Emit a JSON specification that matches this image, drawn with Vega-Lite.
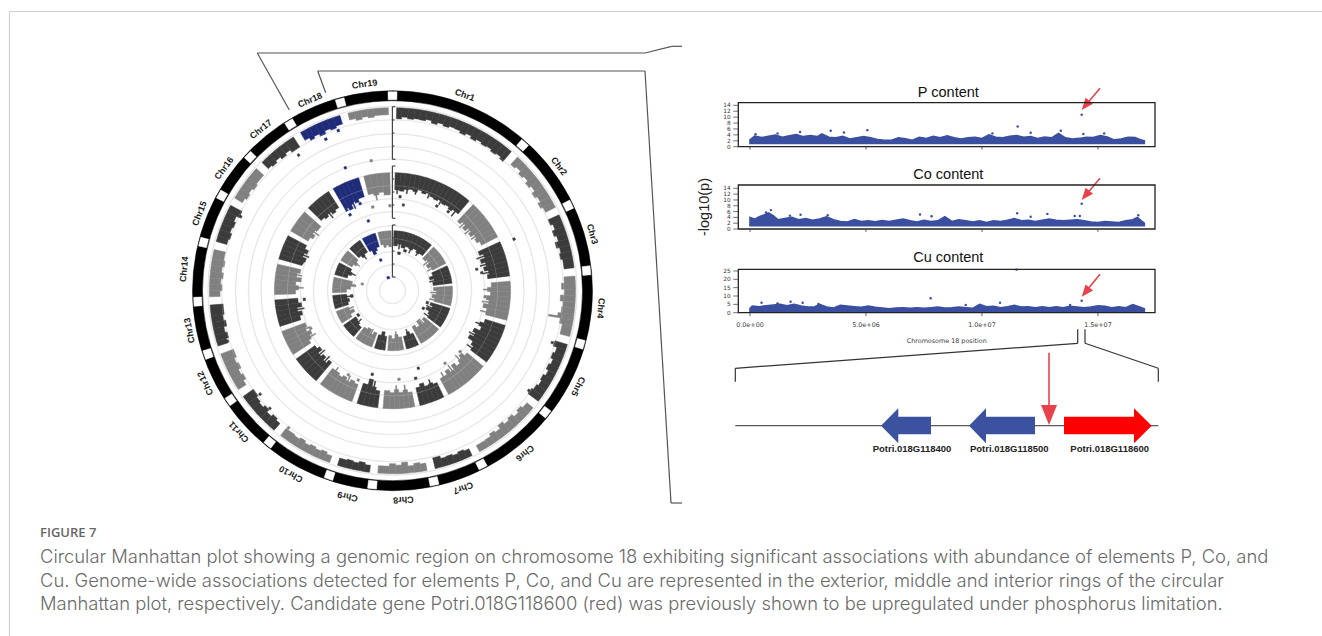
{"$schema":"https://vega.github.io/schema/vega-lite/v6.json","width":1322,"height":636,"padding":0,"autosize":"none","background":"white","config":{"view":{"stroke":null}},
"resolve":{"scale":{"x":"independent","y":"independent"}},
"layer":[
{"layer":[
{"data":{"values":[
{"a":0,"b":360,"o":13.3,"i":12.7,"k":"l"},{"a":0,"b":360,"o":26.3,"i":25.7,"k":"l"},{"a":0,"b":360,"o":39.3,"i":38.7,"k":"l"},{"a":0,"b":360,"o":52.3,"i":51.7,"k":"l"},{"a":0,"b":360,"o":65.3,"i":64.7,"k":"l"},{"a":0,"b":360,"o":79.3,"i":78.7,"k":"l"},{"a":0,"b":360,"o":92.3,"i":91.7,"k":"l"},{"a":0,"b":360,"o":105.3,"i":104.7,"k":"l"},{"a":0,"b":360,"o":118.3,"i":117.7,"k":"l"},{"a":0,"b":360,"o":131.8,"i":131.2,"k":"l"},{"a":0,"b":360,"o":144.3,"i":143.7,"k":"l"},{"a":0,"b":360,"o":157.3,"i":156.7,"k":"l"},{"a":0,"b":360,"o":171.3,"i":170.7,"k":"l"},{"a":0,"b":360,"o":184.8,"i":184.2,"k":"l"},
{"a":0,"b":360,"o":200,"i":190,"k":"K"},
{"a":358.7,"b":361.3,"o":199,"i":191,"k":"W"},{"a":40.5,"b":43.1,"o":199,"i":191,"k":"W"},{"a":62.9,"b":65.5,"o":199,"i":191,"k":"W"},{"a":82.8,"b":85.4,"o":199,"i":191,"k":"W"},{"a":104.5,"b":107.1,"o":199,"i":191,"k":"W"},{"a":127.2,"b":129.8,"o":199,"i":191,"k":"W"},{"a":151.6,"b":154.2,"o":199,"i":191,"k":"W"},{"a":166.5,"b":169.1,"o":199,"i":191,"k":"W"},{"a":184.6,"b":187.2,"o":199,"i":191,"k":"W"},{"a":197.5,"b":200.1,"o":199,"i":191,"k":"W"},{"a":217.7,"b":220.3,"o":199,"i":191,"k":"W"},{"a":234.7,"b":237.3,"o":199,"i":191,"k":"W"},{"a":249.8,"b":252.4,"o":199,"i":191,"k":"W"},{"a":265.5,"b":268.1,"o":199,"i":191,"k":"W"},{"a":283,"b":285.6,"o":199,"i":191,"k":"W"},{"a":297.8,"b":300.4,"o":199,"i":191,"k":"W"},{"a":311.9,"b":314.5,"o":199,"i":191,"k":"W"},{"a":327.2,"b":329.8,"o":199,"i":191,"k":"W"},{"a":343.3,"b":345.9,"o":199,"i":191,"k":"W"},
{"a":1.3,"b":3,"o":183,"i":172,"k":"d"},{"a":3,"b":5,"o":183,"i":174,"k":"d"},{"a":5,"b":7,"o":183,"i":172.5,"k":"d"},{"a":7,"b":9,"o":183,"i":173.5,"k":"d"},{"a":9,"b":11,"o":183,"i":173,"k":"d"},{"a":11,"b":13,"o":183,"i":174.5,"k":"d"},{"a":13,"b":15,"o":183,"i":172,"k":"d"},{"a":15,"b":17,"o":183,"i":174,"k":"d"},{"a":17,"b":19,"o":183,"i":172.5,"k":"d"},{"a":19,"b":21,"o":183,"i":174,"k":"d"},{"a":21,"b":23,"o":183,"i":173.5,"k":"d"},{"a":23,"b":25,"o":183,"i":171.5,"k":"d"},{"a":25,"b":27,"o":183,"i":173.5,"k":"d"},{"a":27,"b":29,"o":183,"i":171,"k":"d"},{"a":29,"b":31,"o":183,"i":173,"k":"d"},{"a":31,"b":33,"o":183,"i":171.5,"k":"d"},{"a":33,"b":35,"o":183,"i":172.5,"k":"d"},{"a":35,"b":37,"o":183,"i":170.5,"k":"d"},{"a":37,"b":39,"o":183,"i":172,"k":"d"},{"a":39,"b":40.5,"o":183,"i":170,"k":"d"},
{"a":43.1,"b":45,"o":183,"i":173,"k":"g"},{"a":45,"b":47,"o":183,"i":175,"k":"g"},{"a":47,"b":49,"o":183,"i":172,"k":"g"},{"a":49,"b":51,"o":183,"i":174,"k":"g"},{"a":51,"b":53,"o":183,"i":171,"k":"g"},{"a":53,"b":55,"o":183,"i":173.5,"k":"g"},{"a":55,"b":57,"o":183,"i":170,"k":"g"},{"a":57,"b":59,"o":183,"i":172.5,"k":"g"},{"a":59,"b":61,"o":183,"i":169.5,"k":"g"},{"a":61,"b":62.9,"o":183,"i":172,"k":"g"},
{"a":65.5,"b":67.5,"o":183,"i":171,"k":"d"},{"a":67.5,"b":69.5,"o":183,"i":173.5,"k":"d"},{"a":69.5,"b":71.5,"o":183,"i":170.5,"k":"d"},{"a":71.5,"b":73.5,"o":183,"i":173,"k":"d"},{"a":73.5,"b":75.5,"o":183,"i":169.5,"k":"d"},{"a":75.5,"b":77.5,"o":183,"i":172.5,"k":"d"},{"a":77.5,"b":79.5,"o":183,"i":171,"k":"d"},{"a":79.5,"b":82.8,"o":183,"i":173,"k":"d"},
{"a":85.4,"b":87.5,"o":183,"i":172,"k":"g"},{"a":87.5,"b":89.5,"o":183,"i":169,"k":"g"},{"a":89.5,"b":91.5,"o":183,"i":172,"k":"g"},{"a":91.5,"b":93.5,"o":183,"i":168,"k":"g"},{"a":93.5,"b":95.5,"o":183,"i":171,"k":"g"},{"a":95.5,"b":97.5,"o":183,"i":170,"k":"g"},{"a":97.5,"b":98.6,"o":183,"i":167,"k":"g"},{"a":98.6,"b":99.2,"o":183,"i":158,"k":"g"},{"a":99.2,"b":101,"o":183,"i":170,"k":"g"},{"a":101,"b":104.5,"o":183,"i":173,"k":"g"},
{"a":107.1,"b":109,"o":183,"i":170,"k":"d"},{"a":109,"b":111,"o":183,"i":174,"k":"d"},{"a":111,"b":113,"o":183,"i":172,"k":"d"},{"a":113,"b":115,"o":183,"i":174.5,"k":"d"},{"a":115,"b":117,"o":183,"i":172.5,"k":"d"},{"a":117,"b":119,"o":183,"i":175,"k":"d"},{"a":119,"b":121,"o":183,"i":172.5,"k":"d"},{"a":121,"b":123,"o":183,"i":174,"k":"d"},{"a":123,"b":125,"o":183,"i":172,"k":"d"},{"a":125,"b":127.2,"o":183,"i":170,"k":"d"},
{"a":129.8,"b":132,"o":183,"i":175,"k":"g"},{"a":132,"b":134,"o":183,"i":172.5,"k":"g"},{"a":134,"b":136,"o":183,"i":175,"k":"g"},{"a":136,"b":138,"o":183,"i":172,"k":"g"},{"a":138,"b":140,"o":183,"i":174,"k":"g"},{"a":140,"b":142,"o":183,"i":171,"k":"g"},{"a":142,"b":144,"o":183,"i":175,"k":"g"},{"a":144,"b":146,"o":183,"i":173,"k":"g"},{"a":146,"b":148,"o":183,"i":175.5,"k":"g"},{"a":148,"b":151.6,"o":183,"i":176,"k":"g"},
{"a":154.2,"b":156,"o":183,"i":175.5,"k":"d"},{"a":156,"b":158,"o":183,"i":174,"k":"d"},{"a":158,"b":160,"o":183,"i":175.5,"k":"d"},{"a":160,"b":162,"o":183,"i":174,"k":"d"},{"a":162,"b":164,"o":183,"i":174.5,"k":"d"},{"a":164,"b":166.5,"o":183,"i":172,"k":"d"},
{"a":169.1,"b":171,"o":183,"i":175.5,"k":"g"},{"a":171,"b":173,"o":183,"i":174,"k":"g"},{"a":173,"b":175,"o":183,"i":176,"k":"g"},{"a":175,"b":177,"o":183,"i":172,"k":"g"},{"a":177,"b":179,"o":183,"i":174.5,"k":"g"},{"a":179,"b":181,"o":183,"i":173,"k":"g"},{"a":181,"b":184.6,"o":183,"i":175.5,"k":"g"},
{"a":187.2,"b":189,"o":183,"i":176,"k":"d"},{"a":189,"b":191,"o":183,"i":174,"k":"d"},{"a":191,"b":193,"o":183,"i":175.5,"k":"d"},{"a":193,"b":195,"o":183,"i":174.5,"k":"d"},{"a":195,"b":197.5,"o":183,"i":175.5,"k":"d"},
{"a":200.1,"b":202,"o":183,"i":176,"k":"g"},{"a":202,"b":204,"o":183,"i":174,"k":"g"},{"a":204,"b":206,"o":183,"i":175.5,"k":"g"},{"a":206,"b":208,"o":183,"i":174,"k":"g"},{"a":208,"b":210,"o":183,"i":175.5,"k":"g"},{"a":210,"b":212,"o":183,"i":173.5,"k":"g"},{"a":212,"b":214,"o":183,"i":175,"k":"g"},{"a":214,"b":217.7,"o":183,"i":174,"k":"g"},
{"a":220.3,"b":222,"o":183,"i":174,"k":"d"},{"a":222,"b":224,"o":183,"i":172,"k":"d"},{"a":224,"b":226,"o":183,"i":174.5,"k":"d"},{"a":226,"b":228,"o":183,"i":171.5,"k":"d"},{"a":228,"b":230,"o":183,"i":174,"k":"d"},{"a":230,"b":232,"o":183,"i":172.5,"k":"d"},{"a":232,"b":234.7,"o":183,"i":170.5,"k":"d"},
{"a":237.3,"b":239,"o":183,"i":174,"k":"g"},{"a":239,"b":241,"o":183,"i":171,"k":"g"},{"a":241,"b":243,"o":183,"i":173,"k":"g"},{"a":243,"b":245,"o":183,"i":170,"k":"g"},{"a":245,"b":247,"o":183,"i":172,"k":"g"},{"a":247,"b":249.8,"o":183,"i":169.5,"k":"g"},
{"a":252.4,"b":254,"o":183,"i":173,"k":"d"},{"a":254,"b":256,"o":183,"i":170.5,"k":"d"},{"a":256,"b":258,"o":183,"i":172.5,"k":"d"},{"a":258,"b":260,"o":183,"i":169.5,"k":"d"},{"a":260,"b":262,"o":183,"i":171.5,"k":"d"},{"a":262,"b":265.5,"o":183,"i":170,"k":"d"},
{"a":268.1,"b":270,"o":183,"i":172.5,"k":"g"},{"a":270,"b":272,"o":183,"i":170.5,"k":"g"},{"a":272,"b":274,"o":183,"i":172,"k":"g"},{"a":274,"b":276,"o":183,"i":170,"k":"g"},{"a":276,"b":278,"o":183,"i":172,"k":"g"},{"a":278,"b":280,"o":183,"i":170,"k":"g"},{"a":280,"b":283,"o":183,"i":171.5,"k":"g"},
{"a":285.6,"b":287.5,"o":183,"i":172,"k":"d"},{"a":287.5,"b":289.5,"o":183,"i":170.5,"k":"d"},{"a":289.5,"b":291.5,"o":183,"i":172.5,"k":"d"},{"a":291.5,"b":293.5,"o":183,"i":171,"k":"d"},{"a":293.5,"b":295.5,"o":183,"i":173,"k":"d"},{"a":295.5,"b":297.8,"o":183,"i":170,"k":"d"},
{"a":300.4,"b":302,"o":183,"i":174,"k":"g"},{"a":302,"b":304,"o":183,"i":172,"k":"g"},{"a":304,"b":306,"o":183,"i":173.5,"k":"g"},{"a":306,"b":308,"o":183,"i":171.5,"k":"g"},{"a":308,"b":311.9,"o":183,"i":173,"k":"g"},
{"a":314.5,"b":316,"o":183,"i":174,"k":"d"},{"a":316,"b":318,"o":183,"i":172.5,"k":"d"},{"a":318,"b":320,"o":183,"i":174.5,"k":"d"},{"a":320,"b":322,"o":183,"i":172,"k":"d"},{"a":322,"b":324,"o":183,"i":174,"k":"d"},{"a":324,"b":327.2,"o":183,"i":171,"k":"d"},
{"a":329.8,"b":331.5,"o":183,"i":174,"k":"b"},{"a":331.5,"b":333,"o":183,"i":171,"k":"b"},{"a":333,"b":335,"o":183,"i":173,"k":"b"},{"a":335,"b":337,"o":183,"i":170.5,"k":"b"},{"a":337,"b":339,"o":183,"i":173.5,"k":"b"},{"a":339,"b":341,"o":183,"i":172,"k":"b"},{"a":341,"b":343.3,"o":183,"i":174,"k":"b"},
{"a":345.9,"b":348,"o":183,"i":176,"k":"g"},{"a":348,"b":350,"o":183,"i":174,"k":"g"},{"a":350,"b":352,"o":183,"i":176,"k":"g"},{"a":352,"b":354,"o":183,"i":174.5,"k":"g"},{"a":354,"b":358.7,"o":183,"i":176,"k":"g"},
{"a":1.3,"b":4,"o":118,"i":101,"k":"d"},{"a":4,"b":6.5,"o":118,"i":100,"k":"d"},{"a":6.5,"b":9,"o":118,"i":102,"k":"d"},{"a":9,"b":11.5,"o":118,"i":103,"k":"d"},{"a":11.5,"b":14,"o":118,"i":101.5,"k":"d"},{"a":14,"b":16.5,"o":118,"i":104,"k":"d"},{"a":16.5,"b":19,"o":118,"i":102,"k":"d"},{"a":19,"b":21.5,"o":118,"i":103.5,"k":"d"},{"a":21.5,"b":24,"o":118,"i":101.5,"k":"d"},{"a":24,"b":26.5,"o":118,"i":100.5,"k":"d"},{"a":26.5,"b":29,"o":118,"i":102,"k":"d"},{"a":29,"b":31.5,"o":118,"i":100,"k":"d"},{"a":31.5,"b":34,"o":118,"i":101,"k":"d"},{"a":34,"b":36.5,"o":118,"i":99,"k":"d"},{"a":36.5,"b":40.5,"o":118,"i":101,"k":"d"},
{"a":43.1,"b":45.5,"o":118,"i":95,"k":"g"},{"a":45.5,"b":48,"o":118,"i":98,"k":"g"},{"a":48,"b":50.5,"o":118,"i":94,"k":"g"},{"a":50.5,"b":53,"o":118,"i":98,"k":"g"},{"a":53,"b":55.5,"o":118,"i":95,"k":"g"},{"a":55.5,"b":58,"o":118,"i":99,"k":"g"},{"a":58,"b":60.5,"o":118,"i":97,"k":"g"},{"a":60.5,"b":62.9,"o":118,"i":100,"k":"g"},
{"a":65.5,"b":68,"o":118,"i":94,"k":"d"},{"a":68,"b":70.5,"o":118,"i":98,"k":"d"},{"a":70.5,"b":73,"o":118,"i":93,"k":"d"},{"a":73,"b":75.5,"o":118,"i":97,"k":"d"},{"a":75.5,"b":78,"o":118,"i":94,"k":"d"},{"a":78,"b":80.5,"o":118,"i":98,"k":"d"},{"a":80.5,"b":82.8,"o":118,"i":96,"k":"d"},
{"a":85.4,"b":88,"o":118,"i":99,"k":"g"},{"a":88,"b":90.5,"o":118,"i":95,"k":"g"},{"a":90.5,"b":93,"o":118,"i":98,"k":"g"},{"a":93,"b":95.5,"o":118,"i":94,"k":"g"},{"a":95.5,"b":98,"o":118,"i":97,"k":"g"},{"a":98,"b":100.5,"o":118,"i":92,"k":"g"},{"a":100.5,"b":104.5,"o":118,"i":96,"k":"g"},
{"a":107.1,"b":109.5,"o":118,"i":97,"k":"d"},{"a":109.5,"b":112,"o":118,"i":93,"k":"d"},{"a":112,"b":114.5,"o":118,"i":96,"k":"d"},{"a":114.5,"b":117,"o":118,"i":90,"k":"d"},{"a":117,"b":119.5,"o":118,"i":93,"k":"d"},{"a":119.5,"b":122,"o":118,"i":89,"k":"d"},{"a":122,"b":124.5,"o":118,"i":95,"k":"d"},{"a":124.5,"b":127.2,"o":118,"i":98,"k":"d"},
{"a":129.8,"b":132,"o":118,"i":97,"k":"g"},{"a":132,"b":134.5,"o":118,"i":93,"k":"g"},{"a":134.5,"b":137,"o":118,"i":96,"k":"g"},{"a":137,"b":139.5,"o":118,"i":99,"k":"g"},{"a":139.5,"b":142,"o":118,"i":95,"k":"g"},{"a":142,"b":144.5,"o":118,"i":100,"k":"g"},{"a":144.5,"b":147,"o":118,"i":96,"k":"g"},{"a":147,"b":151.6,"o":118,"i":100,"k":"g"},
{"a":154.2,"b":156.5,"o":118,"i":102,"k":"d"},{"a":156.5,"b":159,"o":118,"i":100,"k":"d"},{"a":159,"b":161.5,"o":118,"i":101,"k":"d"},{"a":161.5,"b":164,"o":118,"i":97,"k":"d"},{"a":164,"b":166.5,"o":118,"i":100,"k":"d"},
{"a":169.1,"b":171.5,"o":118,"i":103,"k":"g"},{"a":171.5,"b":174,"o":118,"i":100,"k":"g"},{"a":174,"b":176.5,"o":118,"i":102,"k":"g"},{"a":176.5,"b":179,"o":118,"i":99,"k":"g"},{"a":179,"b":181.5,"o":118,"i":102,"k":"g"},{"a":181.5,"b":184.6,"o":118,"i":100,"k":"g"},
{"a":187.2,"b":189.5,"o":118,"i":101,"k":"d"},{"a":189.5,"b":192,"o":118,"i":98,"k":"d"},{"a":192,"b":194.5,"o":118,"i":91,"k":"d"},{"a":194.5,"b":197.5,"o":118,"i":97,"k":"d"},
{"a":200.1,"b":202.5,"o":118,"i":100,"k":"g"},{"a":202.5,"b":205,"o":118,"i":98,"k":"g"},{"a":205,"b":207.5,"o":118,"i":101,"k":"g"},{"a":207.5,"b":210,"o":118,"i":98,"k":"g"},{"a":210,"b":212.5,"o":118,"i":100,"k":"g"},{"a":212.5,"b":217.7,"o":118,"i":98,"k":"g"},
{"a":220.3,"b":222.5,"o":118,"i":94,"k":"d"},{"a":222.5,"b":225,"o":118,"i":98,"k":"d"},{"a":225,"b":227.5,"o":118,"i":94,"k":"d"},{"a":227.5,"b":230,"o":118,"i":97,"k":"d"},{"a":230,"b":232.5,"o":118,"i":92,"k":"d"},{"a":232.5,"b":234.7,"o":118,"i":95,"k":"d"},
{"a":237.3,"b":239.5,"o":118,"i":97,"k":"g"},{"a":239.5,"b":242,"o":118,"i":94,"k":"g"},{"a":242,"b":244.5,"o":118,"i":91,"k":"g"},{"a":244.5,"b":247,"o":118,"i":95,"k":"g"},{"a":247,"b":249.8,"o":118,"i":93,"k":"g"},
{"a":252.4,"b":255,"o":118,"i":96,"k":"d"},{"a":255,"b":257.5,"o":118,"i":93,"k":"d"},{"a":257.5,"b":260,"o":118,"i":97,"k":"d"},{"a":260,"b":262.5,"o":118,"i":92,"k":"d"},{"a":262.5,"b":265.5,"o":118,"i":95,"k":"d"},
{"a":268.1,"b":270.5,"o":118,"i":97,"k":"g"},{"a":270.5,"b":273,"o":118,"i":94,"k":"g"},{"a":273,"b":275.5,"o":118,"i":97,"k":"g"},{"a":275.5,"b":278,"o":118,"i":92,"k":"g"},{"a":278,"b":280.5,"o":118,"i":97,"k":"g"},{"a":280.5,"b":283,"o":118,"i":94,"k":"g"},
{"a":285.6,"b":288,"o":118,"i":94,"k":"d"},{"a":288,"b":290.5,"o":118,"i":92,"k":"d"},{"a":290.5,"b":293,"o":118,"i":96,"k":"d"},{"a":293,"b":295.5,"o":118,"i":93,"k":"d"},{"a":295.5,"b":297.8,"o":118,"i":97,"k":"d"},
{"a":300.4,"b":303,"o":118,"i":98,"k":"g"},{"a":303,"b":305.5,"o":118,"i":95,"k":"g"},{"a":305.5,"b":308,"o":118,"i":98,"k":"g"},{"a":308,"b":311.9,"o":118,"i":96,"k":"g"},
{"a":314.5,"b":317,"o":118,"i":100,"k":"d"},{"a":317,"b":319.5,"o":118,"i":98,"k":"d"},{"a":319.5,"b":322,"o":118,"i":100,"k":"d"},{"a":322,"b":324.5,"o":118,"i":97,"k":"d"},{"a":324.5,"b":327.2,"o":118,"i":99,"k":"d"},
{"a":329.8,"b":332,"o":118,"i":94,"k":"b"},{"a":332,"b":334.5,"o":118,"i":91,"k":"b"},{"a":334.5,"b":337,"o":118,"i":97,"k":"b"},{"a":337,"b":339.5,"o":118,"i":95,"k":"b"},{"a":339.5,"b":343.3,"o":118,"i":98,"k":"b"},
{"a":345.9,"b":349,"o":118,"i":99,"k":"g"},{"a":349,"b":352,"o":118,"i":97,"k":"g"},{"a":352,"b":355,"o":118,"i":99,"k":"g"},{"a":355,"b":358.7,"o":118,"i":96,"k":"g"},
{"a":2.4,"b":3,"o":102,"i":97,"k":"d"},{"a":8,"b":8.6,"o":103,"i":98,"k":"d"},{"a":13,"b":13.6,"o":103,"i":99,"k":"d"},{"a":20.5,"b":21.1,"o":104,"i":99,"k":"d"},{"a":28,"b":28.6,"o":103,"i":98,"k":"d"},{"a":38,"b":38.6,"o":102,"i":95,"k":"d"},{"a":46.5,"b":47.1,"o":99,"i":92,"k":"g"},{"a":51.5,"b":52.1,"o":99,"i":92,"k":"g"},{"a":56.5,"b":57.1,"o":100,"i":94,"k":"g"},{"a":69,"b":69.6,"o":99,"i":90,"k":"d"},{"a":74,"b":74.6,"o":98,"i":91,"k":"d"},{"a":79,"b":79.6,"o":99,"i":92,"k":"d"},{"a":89,"b":89.6,"o":100,"i":91,"k":"g"},{"a":96.5,"b":97.1,"o":98,"i":90,"k":"g"},{"a":102.5,"b":103.1,"o":97,"i":90,"k":"g"},{"a":110.5,"b":111.1,"o":97,"i":89,"k":"d"},{"a":118,"b":118.6,"o":94,"i":87,"k":"d"},{"a":125.5,"b":126.1,"o":99,"i":92,"k":"d"},{"a":135.5,"b":136.1,"o":97,"i":90,"k":"g"},{"a":143,"b":143.6,"o":101,"i":93,"k":"g"},{"a":149,"b":149.6,"o":101,"i":95,"k":"g"},{"a":157.5,"b":158.1,"o":101,"i":96,"k":"d"},{"a":172.5,"b":173.1,"o":101,"i":95,"k":"g"},{"a":177.5,"b":178.1,"o":100,"i":95,"k":"g"},{"a":190.5,"b":191.1,"o":99,"i":92,"k":"d"},{"a":206,"b":206.6,"o":102,"i":95,"k":"g"},{"a":215,"b":215.6,"o":99,"i":94,"k":"g"},{"a":223.5,"b":224.1,"o":99,"i":91,"k":"d"},{"a":228.5,"b":229.1,"o":98,"i":90,"k":"d"},{"a":240.5,"b":241.1,"o":95,"i":88,"k":"g"},{"a":246,"b":246.6,"o":96,"i":90,"k":"g"},{"a":258.5,"b":259.1,"o":98,"i":90,"k":"d"},{"a":271.5,"b":272.1,"o":95,"i":89,"k":"g"},{"a":279,"b":279.6,"o":98,"i":92,"k":"g"},{"a":291.5,"b":292.1,"o":97,"i":90,"k":"d"},{"a":306.5,"b":307.1,"o":99,"i":92,"k":"g"},{"a":320.5,"b":321.1,"o":101,"i":94,"k":"d"},{"a":335.5,"b":336.1,"o":98,"i":90,"k":"b"},{"a":350,"b":350.6,"o":98,"i":92,"k":"g"},
{"a":1.3,"b":6,"o":60,"i":45,"k":"d"},{"a":6,"b":11,"o":60,"i":47,"k":"d"},{"a":11,"b":16,"o":60,"i":44,"k":"d"},{"a":16,"b":21,"o":60,"i":46,"k":"d"},{"a":21,"b":26,"o":60,"i":45,"k":"d"},{"a":26,"b":31,"o":60,"i":47,"k":"d"},{"a":31,"b":36,"o":60,"i":45,"k":"d"},{"a":36,"b":40.5,"o":60,"i":46,"k":"d"},
{"a":43.1,"b":48,"o":60,"i":44,"k":"g"},{"a":48,"b":53,"o":60,"i":46,"k":"g"},{"a":53,"b":58,"o":60,"i":42,"k":"g"},{"a":58,"b":62.9,"o":60,"i":45,"k":"g"},
{"a":65.5,"b":70,"o":60,"i":43,"k":"d"},{"a":70,"b":74,"o":60,"i":39,"k":"d"},{"a":74,"b":78,"o":60,"i":43,"k":"d"},{"a":78,"b":82.8,"o":60,"i":41,"k":"d"},
{"a":85.4,"b":90,"o":60,"i":41,"k":"g"},{"a":90,"b":95,"o":60,"i":44,"k":"g"},{"a":95,"b":100,"o":60,"i":40,"k":"g"},{"a":100,"b":104.5,"o":60,"i":43,"k":"g"},
{"a":107.1,"b":111,"o":60,"i":40,"k":"d"},{"a":111,"b":115,"o":60,"i":43,"k":"d"},{"a":115,"b":119,"o":60,"i":38,"k":"d"},{"a":119,"b":123,"o":60,"i":42,"k":"d"},{"a":123,"b":127.2,"o":60,"i":44,"k":"d"},
{"a":129.8,"b":134,"o":60,"i":41,"k":"g"},{"a":134,"b":138,"o":60,"i":45,"k":"g"},{"a":138,"b":142,"o":60,"i":39,"k":"g"},{"a":142,"b":147,"o":60,"i":44,"k":"g"},{"a":147,"b":151.6,"o":60,"i":41,"k":"g"},
{"a":154.2,"b":158,"o":60,"i":47,"k":"d"},{"a":158,"b":162,"o":60,"i":44,"k":"d"},{"a":162,"b":166.5,"o":60,"i":47,"k":"d"},
{"a":169.1,"b":173,"o":60,"i":47,"k":"g"},{"a":173,"b":177,"o":60,"i":44,"k":"g"},{"a":177,"b":181,"o":60,"i":48,"k":"g"},{"a":181,"b":184.6,"o":60,"i":45,"k":"g"},
{"a":187.2,"b":190,"o":60,"i":46,"k":"d"},{"a":190,"b":194,"o":60,"i":42,"k":"d"},{"a":194,"b":197.5,"o":60,"i":46,"k":"d"},
{"a":200.1,"b":204,"o":60,"i":45,"k":"g"},{"a":204,"b":208,"o":60,"i":48,"k":"g"},{"a":208,"b":213,"o":60,"i":44,"k":"g"},{"a":213,"b":217.7,"o":60,"i":46,"k":"g"},
{"a":220.3,"b":225,"o":60,"i":48,"k":"d"},{"a":225,"b":230,"o":60,"i":46,"k":"d"},{"a":230,"b":234.7,"o":60,"i":45,"k":"d"},
{"a":237.3,"b":241,"o":60,"i":48,"k":"g"},{"a":241,"b":245,"o":60,"i":43,"k":"g"},{"a":245,"b":249.8,"o":60,"i":47,"k":"g"},
{"a":252.4,"b":256,"o":60,"i":46,"k":"d"},{"a":256,"b":260,"o":60,"i":44,"k":"d"},{"a":260,"b":265.5,"o":60,"i":46,"k":"d"},
{"a":268.1,"b":272,"o":60,"i":46,"k":"g"},{"a":272,"b":276,"o":60,"i":42,"k":"g"},{"a":276,"b":279,"o":60,"i":37,"k":"g"},{"a":279,"b":283,"o":60,"i":41,"k":"g"},
{"a":285.6,"b":290,"o":60,"i":47,"k":"d"},{"a":290,"b":294,"o":60,"i":44,"k":"d"},{"a":294,"b":297.8,"o":60,"i":46,"k":"d"},
{"a":300.4,"b":304,"o":60,"i":47,"k":"g"},{"a":304,"b":308,"o":60,"i":44,"k":"g"},{"a":308,"b":311.9,"o":60,"i":46,"k":"g"},
{"a":314.5,"b":318,"o":60,"i":47,"k":"d"},{"a":318,"b":322,"o":60,"i":44,"k":"d"},{"a":322,"b":327.2,"o":60,"i":46,"k":"d"},
{"a":329.8,"b":333,"o":60,"i":45,"k":"b"},{"a":333,"b":336,"o":60,"i":41,"k":"b"},{"a":336,"b":339.5,"o":60,"i":43,"k":"b"},{"a":339.5,"b":343.3,"o":60,"i":46,"k":"b"},
{"a":345.9,"b":349,"o":60,"i":47,"k":"g"},{"a":349,"b":352,"o":60,"i":44,"k":"g"},{"a":352,"b":355,"o":60,"i":46,"k":"g"},{"a":355,"b":358.7,"o":60,"i":44,"k":"g"},
{"a":8,"b":9.2,"o":48,"i":42,"k":"d"},{"a":23,"b":24.2,"o":47,"i":41,"k":"d"},{"a":33,"b":34.2,"o":47,"i":42,"k":"d"},{"a":50,"b":51.2,"o":47,"i":40,"k":"g"},{"a":60,"b":61.2,"o":46,"i":40,"k":"g"},{"a":76,"b":77.2,"o":45,"i":38,"k":"d"},{"a":92,"b":93.2,"o":45,"i":38,"k":"g"},{"a":102,"b":103.2,"o":44,"i":38,"k":"g"},{"a":113,"b":114.2,"o":44,"i":37,"k":"d"},{"a":125,"b":126.2,"o":45,"i":39,"k":"d"},{"a":136,"b":137.2,"o":46,"i":39,"k":"g"},{"a":160,"b":161.2,"o":46,"i":41,"k":"d"},{"a":175,"b":176.2,"o":46,"i":41,"k":"g"},{"a":206,"b":207.2,"o":49,"i":43,"k":"g"},{"a":227,"b":228.2,"o":48,"i":42,"k":"d"},{"a":247,"b":248.2,"o":48,"i":42,"k":"g"},{"a":262,"b":263.2,"o":47,"i":41,"k":"d"},{"a":292,"b":293.2,"o":46,"i":40,"k":"d"},{"a":306,"b":307.2,"o":46,"i":41,"k":"g"},{"a":320,"b":321.2,"o":46,"i":41,"k":"d"},
{"a":335.8,"b":336.7,"o":166.7,"i":164.3,"k":"b"},{"a":340.9,"b":341.7,"o":170.2,"i":167.8,"k":"b"},{"a":324.9,"b":325.7,"o":166.2,"i":163.8,"k":"d"},{"a":107.6,"b":108.4,"o":169.2,"i":166.8,"k":"d"},{"a":125.8,"b":126.6,"o":170.2,"i":167.8,"k":"d"},{"a":231.6,"b":232.4,"o":169.2,"i":166.8,"k":"d"},{"a":225.8,"b":226.6,"o":171.2,"i":168.8,"k":"d"},{"a":216.8,"b":217.6,"o":173.2,"i":170.8,"k":"g"},{"a":252.6,"b":253.4,"o":173.7,"i":171.3,"k":"d"},{"a":295.6,"b":296.4,"o":170.2,"i":167.8,"k":"d"},{"a":66.5,"b":67.5,"o":133.2,"i":130.8,"k":"d"},{"a":350.2,"b":351.2,"o":132.9,"i":130.5,"k":"g"},{"a":338.5,"b":339.5,"o":132.9,"i":130.5,"k":"b"},
{"a":330,"b":331.6,"o":88.2,"i":85.8,"k":"b"},{"a":329.7,"b":331.1,"o":94,"i":91.6,"k":"b"},{"a":334.3,"b":335.7,"o":97.7,"i":95.3,"k":"b"},{"a":338.9,"b":340.3,"o":94.2,"i":91.8,"k":"b"},{"a":345.9,"b":347.5,"o":87.2,"i":84.8,"k":"g"},{"a":357.5,"b":359.1,"o":86.2,"i":83.8,"k":"g"},{"a":340,"b":341.8,"o":75,"i":72.6,"k":"b"},{"a":286.5,"b":287.9,"o":95.7,"i":93.3,"k":"d"},{"a":263.6,"b":265.2,"o":89.8,"i":87.4,"k":"d"},{"a":244.5,"b":246.1,"o":91.2,"i":88.8,"k":"g"},{"a":192.8,"b":194.4,"o":87.2,"i":84.8,"k":"d"},{"a":207,"b":208.4,"o":96.2,"i":93.8,"k":"g"},{"a":200.3,"b":201.7,"o":96.8,"i":94.4,"k":"g"},{"a":160.8,"b":162.4,"o":83,"i":80.6,"k":"d"},{"a":164.4,"b":166,"o":91.8,"i":89.4,"k":"d"},{"a":175,"b":176.6,"o":90,"i":87.6,"k":"g"},{"a":131.2,"b":132.8,"o":92.2,"i":89.8,"k":"g"},{"a":143.3,"b":144.9,"o":90.8,"i":88.4,"k":"g"},{"a":93,"b":94.4,"o":93.9,"i":91.5,"k":"g"},{"a":75,"b":76.4,"o":88.1,"i":85.7,"k":"d"},{"a":77.9,"b":79.3,"o":92.2,"i":89.8,"k":"d"},{"a":120.7,"b":122.1,"o":95.9,"i":93.5,"k":"d"},{"a":6.5,"b":7.9,"o":87.6,"i":85.2,"k":"d"},{"a":3.9,"b":5.3,"o":95.5,"i":93.1,"k":"d"},{"a":26.9,"b":28.3,"o":96.7,"i":94.3,"k":"d"},{"a":34.5,"b":35.9,"o":97.9,"i":95.5,"k":"d"},
{"a":337,"b":341,"o":34.1,"i":31.7,"k":"b"},{"a":333,"b":336.8,"o":42.5,"i":40.1,"k":"b"},{"a":337,"b":347,"o":14.9,"i":12.5,"k":"b"},{"a":280.5,"b":284.5,"o":32.2,"i":29.8,"k":"g"},{"a":260.6,"b":264.6,"o":42.2,"i":39.8,"k":"d"},{"a":232.6,"b":236.6,"o":43.2,"i":40.8,"k":"d"},{"a":107,"b":111,"o":38,"i":35.6,"k":"d"},{"a":117.7,"b":121.7,"o":36.7,"i":34.3,"k":"d"},{"a":7.9,"b":11.9,"o":39.2,"i":36.8,"k":"d"},{"a":15.4,"b":19.4,"o":43.1,"i":40.7,"k":"d"}
]},
"mark":{"type":"arc","strokeWidth":0.5},
"encoding":{"x":{"datum":392.5,"type":"quantitative","scale":{"domain":[0,1322],"range":[0,1322],"nice":false,"zero":false},"axis":null},"y":{"datum":290.7,"type":"quantitative","scale":{"domain":[0,636],"range":[0,636],"nice":false,"zero":false},"axis":null},
"theta":{"field":"a","type":"quantitative","stack":null,"scale":{"domain":[0,360],"range":[0,6.283185],"nice":false}},"theta2":{"field":"b"},
"radius":{"field":"o","type":"quantitative","scale":null},"radius2":{"field":"i"},
"color":{"field":"k","type":"nominal","legend":null,"scale":{"domain":["l","K","W","d","g","b","frame","conn","axis","brk","gene"],"range":["#e3e3e3","#000000","#ffffff","#3b3b3b","#808080","#1d2b78","#cfcfcf","#555555","#444444","#333333","#5a5a5a"]}},
"stroke":{"field":"k","type":"nominal","legend":null,"scale":{"domain":["l","K","W","d","g","b","frame","conn","axis","brk","gene"],"range":["#e3e3e3","#000000","#ffffff","#3b3b3b","#808080","#1d2b78","#cfcfcf","#555555","#444444","#333333","#5a5a5a"]}}}},
{"data":{"values":[{"a":0,"b":360,"o":105.5,"i":104.7},{"a":0,"b":360,"o":52.4,"i":51.6},{"a":0,"b":360,"o":171.4,"i":170.8}]},
"mark":{"type":"arc","fill":"#ffffff","opacity":0.22},
"encoding":{"x":{"datum":392.5,"type":"quantitative"},"y":{"datum":290.7,"type":"quantitative"},"theta":{"field":"a","type":"quantitative","stack":null},"theta2":{"field":"b"},"radius":{"field":"o","type":"quantitative","scale":null},"radius2":{"field":"i"}}},
{"data":{"values":[{"t":"Chr1","a":20.3,"r":208.7},{"t":"Chr2","a":53.2,"r":208},{"t":"Chr3","a":74.2,"r":207.7},{"t":"Chr4","a":94.8,"r":209.2},{"t":"Chr5","a":117.3,"r":209},{"t":"Chr6","a":140.8,"r":209.7},{"t":"Chr7","a":160.3,"r":209.6},{"t":"Chr8","a":177,"r":209.6},{"t":"Chr9","a":192.3,"r":210.8},{"t":"Chr10","a":209,"r":209.8},{"t":"Chr11","a":227.4,"r":209},{"t":"Chr12","a":243.7,"r":209},{"t":"Chr13","a":258.9,"r":207},{"t":"Chr14","a":275.9,"r":209.6},{"t":"Chr15","a":291.8,"r":208},{"t":"Chr16","a":306,"r":208.4},{"t":"Chr17","a":320.8,"r":208.4},{"t":"Chr18","a":336.6,"r":207.8},{"t":"Chr19","a":352.3,"r":208.6}]},
"mark":{"type":"text","font":"Liberation Sans","fontWeight":"bold","fontSize":9,"fill":"#1a1a1a","align":"center","baseline":"middle"},
"encoding":{"x":{"datum":392.5,"type":"quantitative"},"y":{"datum":290.7,"type":"quantitative"},"theta":{"field":"a","type":"quantitative","stack":null},"radius":{"field":"r","type":"quantitative","scale":null},"angle":{"field":"a","type":"quantitative","scale":{"domain":[0,360],"range":[0,360],"nice":false}},"text":{"field":"t"}}},
{"data":{"values":[
{"x":9.5,"y":11.5,"x2":1322,"y2":11.5,"k":"frame"},{"x":9.5,"y":11.5,"x2":9.5,"y2":636,"k":"frame"},
{"x":257.3,"y":53,"x2":645,"y2":53,"k":"conn"},{"x":645,"y":53,"x2":671.7,"y2":46.3,"k":"conn"},{"x":671.7,"y":46.3,"x2":682,"y2":46.3,"k":"conn"},{"x":257.3,"y":53,"x2":289.3,"y2":110,"k":"conn"},{"x":317.7,"y":71,"x2":645,"y2":71,"k":"conn"},{"x":645,"y":71,"x2":671,"y2":503,"k":"conn"},{"x":671,"y":503,"x2":682,"y2":503,"k":"conn"},{"x":317.7,"y":71,"x2":325.7,"y2":92.7,"k":"conn"},
{"x":392.4,"y":106.7,"x2":392.4,"y2":159.3,"k":"axis"},{"x":392.4,"y":106.7,"x2":395.4,"y2":106.7,"k":"axis"},{"x":392.4,"y":159.3,"x2":395.4,"y2":159.3,"k":"axis"},{"x":392.4,"y":120,"x2":394.4,"y2":120,"k":"axis"},{"x":392.4,"y":133,"x2":394.4,"y2":133,"k":"axis"},{"x":392.4,"y":146,"x2":394.4,"y2":146,"k":"axis"},
{"x":392.4,"y":166,"x2":392.4,"y2":218.3,"k":"axis"},{"x":392.4,"y":166,"x2":395.4,"y2":166,"k":"axis"},{"x":392.4,"y":218.3,"x2":395.4,"y2":218.3,"k":"axis"},{"x":392.4,"y":179,"x2":394.4,"y2":179,"k":"axis"},{"x":392.4,"y":192,"x2":394.4,"y2":192,"k":"axis"},{"x":392.4,"y":205,"x2":394.4,"y2":205,"k":"axis"},
{"x":392.4,"y":225,"x2":392.4,"y2":277,"k":"axis"},{"x":392.4,"y":225,"x2":395.4,"y2":225,"k":"axis"},{"x":392.4,"y":277,"x2":395.4,"y2":277,"k":"axis"},{"x":392.4,"y":238,"x2":394.4,"y2":238,"k":"axis"},{"x":392.4,"y":251,"x2":394.4,"y2":251,"k":"axis"},{"x":392.4,"y":264,"x2":394.4,"y2":264,"k":"axis"},
{"x":1077.7,"y":329.3,"x2":1077.7,"y2":343.3,"k":"brk"},{"x":1077.7,"y":343.3,"x2":735.3,"y2":368.3,"k":"brk"},{"x":735.3,"y":368.3,"x2":735.3,"y2":381.7,"k":"brk"},{"x":1085,"y":329.3,"x2":1085,"y2":343.3,"k":"brk"},{"x":1085,"y":343.3,"x2":1158.3,"y2":368.3,"k":"brk"},{"x":1158.3,"y":368.3,"x2":1158.3,"y2":381.7,"k":"brk"},
{"x":735.3,"y":425.7,"x2":1158.3,"y2":425.7,"k":"gene"}
]},
"mark":{"type":"rule","strokeWidth":1.2},
"encoding":{"x":{"field":"x","type":"quantitative"},"x2":{"field":"x2"},"y":{"field":"y","type":"quantitative"},"y2":{"field":"y2"},"color":{"field":"k","type":"nominal","legend":null,"scale":{"domain":["l","K","W","d","g","b","frame","conn","axis","brk","gene"],"range":["#e3e3e3","#000000","#ffffff","#3b3b3b","#808080","#1d2b78","#cfcfcf","#555555","#444444","#333333","#5a5a5a"]}}}},
{"data":{"values":[
{"g":"Potri.018G118400","x":881,"y":425.7,"yy":425.7},{"g":"Potri.018G118400","x":898.3,"y":408.3,"yy":443.3},{"g":"Potri.018G118400","x":898.3,"y":416.7,"yy":434.3},{"g":"Potri.018G118400","x":931,"y":416.7,"yy":434.3},
{"g":"Potri.018G118500","x":969,"y":425.7,"yy":425.7},{"g":"Potri.018G118500","x":986,"y":408.3,"yy":443.3},{"g":"Potri.018G118500","x":986,"y":416.7,"yy":434.3},{"g":"Potri.018G118500","x":1035,"y":416.7,"yy":434.3},
{"g":"Potri.018G118600","x":1064,"y":416.7,"yy":434.3},{"g":"Potri.018G118600","x":1134,"y":416.7,"yy":434.3},{"g":"Potri.018G118600","x":1134,"y":408.3,"yy":443.3},{"g":"Potri.018G118600","x":1151.7,"y":425.7,"yy":425.7}
]},
"mark":{"type":"area"},
"encoding":{"x":{"field":"x","type":"quantitative"},"y":{"field":"y","type":"quantitative"},"y2":{"field":"yy"},"detail":{"field":"g"},"fill":{"field":"g","type":"nominal","legend":null,"scale":{"domain":["Potri.018G118400","Potri.018G118500","Potri.018G118600"],"range":["#3b52a0","#3b52a0","#ff0000"]}}}},
{"data":{"values":[{"x":1049,"y":352.7,"x2":1049,"y2":412},{"x":1100,"y":88.3,"x2":1085.5,"y2":105.4},{"x":1100,"y":178.3,"x2":1085.5,"y2":195.4},{"x":1100,"y":274.3,"x2":1085.5,"y2":292.1}]},
"mark":{"type":"rule","strokeWidth":1.6,"stroke":"#e8414c"},
"encoding":{"x":{"field":"x","type":"quantitative"},"x2":{"field":"x2"},"y":{"field":"y","type":"quantitative"},"y2":{"field":"y2"}}},
{"data":{"values":[{"x":1049,"y":415,"s":400,"r":0},{"x":1085.5,"y":105.4,"s":144,"r":39.3},{"x":1085.5,"y":195.4,"s":144,"r":39.3},{"x":1085.5,"y":292.1,"s":144,"r":39.3}]},
"mark":{"type":"point","filled":true,"opacity":1,"fill":"#e8414c","stroke":null,"shape":"M-0.8,-1L0.8,-1L0,1Z"},
"encoding":{"x":{"field":"x","type":"quantitative"},"y":{"field":"y","type":"quantitative"},"size":{"field":"s","type":"quantitative","legend":null,"scale":{"type":"linear","domain":[0,400],"range":[0,400],"nice":false}},"angle":{"field":"r","type":"quantitative","scale":{"domain":[0,360],"range":[0,360],"nice":false}}}},
{"data":{"values":[{"t":"Potri.018G118400","x":912,"y":449.3},{"t":"Potri.018G118500","x":1009.3,"y":449.3},{"t":"Potri.018G118600","x":1109.7,"y":449.3}]},
"mark":{"type":"text","font":"Liberation Sans","fontWeight":"bold","fontSize":9.5,"fill":"#222222","align":"center","baseline":"middle"},
"encoding":{"x":{"field":"x","type":"quantitative"},"y":{"field":"y","type":"quantitative"},"text":{"field":"t"}}},
{"data":{"values":[{"t":"-log10(p)","x":705,"y":207}]},
"mark":{"type":"text","font":"Liberation Sans","fontSize":14.5,"fill":"#222222","align":"center","baseline":"middle","angle":270},
"encoding":{"x":{"field":"x","type":"quantitative"},"y":{"field":"y","type":"quantitative"},"text":{"field":"t"}}},
{"data":{"values":[{"t":"Circular Manhattan plot showing a genomic region on chromosome 18 exhibiting significant associations with abundance of elements P, Co, and","x":40,"y":556.5},{"t":"Cu. Genome-wide associations detected for elements P, Co, and Cu are represented in the exterior, middle and interior rings of the circular","x":40,"y":580.5},{"t":"Manhattan plot, respectively. Candidate gene Potri.018G118600 (red) was previously shown to be upregulated under phosphorus limitation.","x":40,"y":604}]},
"mark":{"type":"text","font":"Inter","fontWeight":300,"fontSize":18.4,"fill":"#6a6a6a","align":"left","baseline":"middle"},
"encoding":{"x":{"field":"x","type":"quantitative"},"y":{"field":"y","type":"quantitative"},"text":{"field":"t"}}},
{"data":{"values":[{"t":"FIGURE 7","x":40,"y":533}]},
"mark":{"type":"text","font":"Open Sans","fontWeight":600,"fontSize":13,"fill":"#666666","align":"left","baseline":"middle"},
"encoding":{"x":{"field":"x","type":"quantitative"},"y":{"field":"y","type":"quantitative"},"text":{"field":"t"}}}
]},
{"layer":[
{"data":{"values":[{"pos":0,"v":2.3},{"pos":0.2,"v":3.6},{"pos":0.5,"v":3.1},{"pos":0.8,"v":3.5},{"pos":1.1,"v":3.9},{"pos":1.4,"v":3.2},{"pos":1.7,"v":3.7},{"pos":2,"v":4.1},{"pos":2.3,"v":3.4},{"pos":2.6,"v":3.8},{"pos":2.9,"v":3.4},{"pos":3.1,"v":4.3},{"pos":3.4,"v":3.2},{"pos":3.7,"v":3},{"pos":4,"v":3.5},{"pos":4.3,"v":2.6},{"pos":4.6,"v":3},{"pos":4.9,"v":3.4},{"pos":5.2,"v":3},{"pos":5.5,"v":2.4},{"pos":5.8,"v":2.2},{"pos":6.1,"v":2.2},{"pos":6.4,"v":3},{"pos":6.7,"v":2.7},{"pos":7,"v":2.2},{"pos":7.3,"v":3.2},{"pos":7.6,"v":2.8},{"pos":7.9,"v":3.5},{"pos":8.2,"v":3},{"pos":8.5,"v":3.7},{"pos":8.8,"v":3},{"pos":9.1,"v":2.6},{"pos":9.4,"v":3},{"pos":9.7,"v":3.2},{"pos":10,"v":2.8},{"pos":10.3,"v":4},{"pos":10.6,"v":3.2},{"pos":10.9,"v":3},{"pos":11.2,"v":3.5},{"pos":11.5,"v":3.8},{"pos":11.8,"v":3.2},{"pos":12.1,"v":3.4},{"pos":12.4,"v":2.8},{"pos":12.7,"v":3.3},{"pos":13,"v":3},{"pos":13.3,"v":4.5},{"pos":13.6,"v":3},{"pos":13.9,"v":2.6},{"pos":14.2,"v":2.8},{"pos":14.5,"v":3.2},{"pos":14.8,"v":3.1},{"pos":15.1,"v":3.8},{"pos":15.4,"v":3.3},{"pos":15.7,"v":2.3},{"pos":16,"v":2.6},{"pos":16.3,"v":3.2},{"pos":16.6,"v":3.1},{"pos":16.8,"v":2.4},{"pos":17,"v":2}]},
"mark":{"type":"area","fill":"#3b4fa0","stroke":"#3b4fa0","strokeWidth":1.6},
"encoding":{"x":{"field":"pos","type":"quantitative","axis":null,"scale":{"domain":[-0.504,17.46],"range":[738.3,1155],"nice":false,"zero":false}},"y":{"field":"v","type":"quantitative","axis":null,"scale":{"domain":[0,14.88],"range":[146.7,102.7],"nice":false,"zero":false}},"y2":{"datum":1.1}}},
{"data":{"values":[{"pos":14.3,"v":10.8},{"pos":11.54,"v":6.8},{"pos":5.06,"v":5.6},{"pos":3.48,"v":5.4},{"pos":2.16,"v":5},{"pos":4.05,"v":4.8},{"pos":1.19,"v":4.5},{"pos":12.1,"v":4.7},{"pos":13.4,"v":5.4},{"pos":10.45,"v":4.5},{"pos":0.24,"v":4.2},{"pos":14.37,"v":4.3},{"pos":15.27,"v":4.5}]},
"mark":{"type":"point","filled":true,"opacity":1,"size":6,"fill":"#3b4fa0","stroke":null},
"encoding":{"x":{"field":"pos","type":"quantitative"},"y":{"field":"v","type":"quantitative"}}},
{"data":{"values":[{"pos":-0.504,"pos2":17.46,"v":0,"v2":14.88}]},"mark":{"type":"rect","fill":"transparent","stroke":"#222222","strokeWidth":1.3},"encoding":{"x":{"field":"pos","type":"quantitative"},"x2":{"field":"pos2"},"y":{"field":"v","type":"quantitative"},"y2":{"field":"v2"}}},
{"data":{"values":[{"v":0},{"v":2},{"v":4},{"v":6},{"v":8},{"v":10},{"v":12},{"v":14}]},"mark":{"type":"rule","stroke":"#333333","strokeWidth":0.7},"encoding":{"x":{"datum":-0.72,"type":"quantitative"},"x2":{"datum":-0.504},"y":{"field":"v","type":"quantitative"}}},
{"data":{"values":[{"v":0},{"v":2},{"v":4},{"v":6},{"v":8},{"v":10},{"v":12},{"v":14}]},"mark":{"type":"text","font":"DejaVu Sans","fontSize":5.8,"fill":"#333333","align":"right","baseline":"middle"},"encoding":{"x":{"datum":-0.83,"type":"quantitative"},"y":{"field":"v","type":"quantitative"},"text":{"field":"v"}}},
{"data":{"values":[{"pos":0},{"pos":5},{"pos":10},{"pos":15}]},"mark":{"type":"rule","stroke":"#333333","strokeWidth":0.8},"encoding":{"x":{"field":"pos","type":"quantitative"},"y":{"datum":0,"type":"quantitative"},"y2":{"datum":-1}}},
{"data":{"values":[{"t":"P content","pos":8.55,"v":18.3}]},"mark":{"type":"text","font":"Liberation Sans","fontSize":14.5,"fill":"#111111","align":"center","baseline":"middle"},"encoding":{"x":{"field":"pos","type":"quantitative"},"y":{"field":"v","type":"quantitative"},"text":{"field":"t"}}}
]},
{"layer":[
{"data":{"values":[{"pos":0,"v":4},{"pos":0.2,"v":3.4},{"pos":0.4,"v":4.2},{"pos":0.6,"v":4.8},{"pos":0.8,"v":5.5},{"pos":1,"v":4.6},{"pos":1.2,"v":3.2},{"pos":1.5,"v":3.6},{"pos":1.8,"v":4},{"pos":2.1,"v":3.2},{"pos":2.4,"v":3.6},{"pos":2.7,"v":3},{"pos":3,"v":3.4},{"pos":3.3,"v":4.2},{"pos":3.6,"v":3.2},{"pos":3.9,"v":2.6},{"pos":4.2,"v":2.4},{"pos":4.5,"v":3.2},{"pos":4.8,"v":2.6},{"pos":5.1,"v":2.8},{"pos":5.4,"v":2.5},{"pos":5.7,"v":2.9},{"pos":6,"v":2.6},{"pos":6.3,"v":3},{"pos":6.6,"v":3.4},{"pos":6.9,"v":2.8},{"pos":7.2,"v":2.4},{"pos":7.5,"v":3},{"pos":7.8,"v":2.6},{"pos":8.1,"v":2.8},{"pos":8.4,"v":4.2},{"pos":8.7,"v":2.6},{"pos":9,"v":3.2},{"pos":9.3,"v":2.8},{"pos":9.6,"v":2.4},{"pos":9.9,"v":2.8},{"pos":10.2,"v":2.2},{"pos":10.5,"v":2.8},{"pos":10.8,"v":2.6},{"pos":11.1,"v":3},{"pos":11.4,"v":3.6},{"pos":11.7,"v":2.8},{"pos":12,"v":3},{"pos":12.3,"v":2.6},{"pos":12.6,"v":3},{"pos":12.9,"v":3.4},{"pos":13.2,"v":3},{"pos":13.5,"v":2.8},{"pos":13.8,"v":3},{"pos":14.1,"v":3.2},{"pos":14.4,"v":2.8},{"pos":14.7,"v":2.4},{"pos":15,"v":2.2},{"pos":15.3,"v":2.6},{"pos":15.6,"v":2.4},{"pos":15.9,"v":2.2},{"pos":16.2,"v":2.8},{"pos":16.5,"v":3.2},{"pos":16.7,"v":4},{"pos":16.9,"v":2.6},{"pos":17,"v":2}]},
"mark":{"type":"area","fill":"#3b4fa0","stroke":"#3b4fa0","strokeWidth":1.6},
"encoding":{"x":{"field":"pos","type":"quantitative","axis":null,"scale":{"domain":[-0.504,17.46],"range":[738.3,1155],"nice":false,"zero":false}},"y":{"field":"v","type":"quantitative","axis":null,"scale":{"domain":[0,15.14],"range":[229,185],"nice":false,"zero":false}},"y2":{"datum":1.1}}},
{"data":{"values":[{"pos":14.3,"v":8.7},{"pos":0.9,"v":6.5},{"pos":0.69,"v":5.7},{"pos":7.33,"v":5},{"pos":11.52,"v":5.4},{"pos":12.82,"v":5.2},{"pos":12.1,"v":4.2},{"pos":14.22,"v":4.5},{"pos":14,"v":4.5},{"pos":16.74,"v":4.7},{"pos":2.18,"v":4.9},{"pos":1.72,"v":4.6},{"pos":3.35,"v":4.7},{"pos":7.83,"v":4.4}]},
"mark":{"type":"point","filled":true,"opacity":1,"size":6,"fill":"#3b4fa0","stroke":null},
"encoding":{"x":{"field":"pos","type":"quantitative"},"y":{"field":"v","type":"quantitative"}}},
{"data":{"values":[{"pos":-0.504,"pos2":17.46,"v":0,"v2":15.14}]},"mark":{"type":"rect","fill":"transparent","stroke":"#222222","strokeWidth":1.3},"encoding":{"x":{"field":"pos","type":"quantitative"},"x2":{"field":"pos2"},"y":{"field":"v","type":"quantitative"},"y2":{"field":"v2"}}},
{"data":{"values":[{"v":0},{"v":2},{"v":4},{"v":6},{"v":8},{"v":10},{"v":12},{"v":14}]},"mark":{"type":"rule","stroke":"#333333","strokeWidth":0.7},"encoding":{"x":{"datum":-0.72,"type":"quantitative"},"x2":{"datum":-0.504},"y":{"field":"v","type":"quantitative"}}},
{"data":{"values":[{"v":0},{"v":2},{"v":4},{"v":6},{"v":8},{"v":10},{"v":12},{"v":14}]},"mark":{"type":"text","font":"DejaVu Sans","fontSize":5.8,"fill":"#333333","align":"right","baseline":"middle"},"encoding":{"x":{"datum":-0.83,"type":"quantitative"},"y":{"field":"v","type":"quantitative"},"text":{"field":"v"}}},
{"data":{"values":[{"pos":0},{"pos":5},{"pos":10},{"pos":15}]},"mark":{"type":"rule","stroke":"#333333","strokeWidth":0.8},"encoding":{"x":{"field":"pos","type":"quantitative"},"y":{"datum":0,"type":"quantitative"},"y2":{"datum":-1}}},
{"data":{"values":[{"t":"Co content","pos":8.55,"v":18.6}]},"mark":{"type":"text","font":"Liberation Sans","fontSize":14.5,"fill":"#111111","align":"center","baseline":"middle"},"encoding":{"x":{"field":"pos","type":"quantitative"},"y":{"field":"v","type":"quantitative"},"text":{"field":"t"}}}
]},
{"layer":[
{"data":{"values":[{"pos":0,"v":2.5},{"pos":0.1,"v":4},{"pos":0.4,"v":3.6},{"pos":0.7,"v":4.2},{"pos":1,"v":4.6},{"pos":1.3,"v":5},{"pos":1.6,"v":4.2},{"pos":1.9,"v":5},{"pos":2.2,"v":4},{"pos":2.5,"v":3.4},{"pos":2.8,"v":3.6},{"pos":3,"v":5},{"pos":3.3,"v":3.4},{"pos":3.6,"v":2.8},{"pos":3.9,"v":4.4},{"pos":4.2,"v":4},{"pos":4.5,"v":3.6},{"pos":4.8,"v":3.2},{"pos":5.1,"v":4},{"pos":5.4,"v":3.2},{"pos":5.7,"v":2.8},{"pos":6,"v":2.4},{"pos":6.3,"v":2.8},{"pos":6.6,"v":3},{"pos":6.9,"v":2.6},{"pos":7.2,"v":3},{"pos":7.5,"v":2.6},{"pos":7.8,"v":3},{"pos":8.1,"v":3.4},{"pos":8.4,"v":2.8},{"pos":8.7,"v":3},{"pos":9,"v":3.4},{"pos":9.3,"v":3},{"pos":9.6,"v":2.6},{"pos":9.9,"v":5},{"pos":10.2,"v":3.6},{"pos":10.5,"v":3.8},{"pos":10.8,"v":3},{"pos":11.1,"v":3.6},{"pos":11.4,"v":4.4},{"pos":11.7,"v":3.4},{"pos":12,"v":3.6},{"pos":12.3,"v":3},{"pos":12.6,"v":3.6},{"pos":12.9,"v":3},{"pos":13.2,"v":3.6},{"pos":13.5,"v":3},{"pos":13.8,"v":3.8},{"pos":14.1,"v":3.4},{"pos":14.4,"v":3},{"pos":14.7,"v":3.4},{"pos":15,"v":4.2},{"pos":15.3,"v":3.8},{"pos":15.6,"v":3},{"pos":15.9,"v":3.6},{"pos":16.2,"v":3},{"pos":16.5,"v":4.8},{"pos":16.8,"v":3.4},{"pos":17,"v":2.4}]},
"mark":{"type":"area","fill":"#3b4fa0","stroke":"#3b4fa0","strokeWidth":1.6},
"encoding":{"x":{"field":"pos","type":"quantitative","axis":null,"scale":{"domain":[-0.504,17.46],"range":[738.3,1155],"nice":false,"zero":false}},"y":{"field":"v","type":"quantitative","axis":null,"scale":{"domain":[0,26],"range":[312.7,269.3],"nice":false,"zero":false}},"y2":{"datum":0.8}}},
{"data":{"values":[{"pos":14.3,"v":7.2},{"pos":7.79,"v":8.6},{"pos":10.78,"v":6},{"pos":0.5,"v":6},{"pos":1.75,"v":6.6},{"pos":1.19,"v":5.6},{"pos":2.27,"v":6},{"pos":11.49,"v":25.8},{"pos":9.3,"v":4.6},{"pos":13.8,"v":4.6},{"pos":2.95,"v":5.2}]},
"mark":{"type":"point","filled":true,"opacity":1,"size":6,"fill":"#3b4fa0","stroke":null},
"encoding":{"x":{"field":"pos","type":"quantitative"},"y":{"field":"v","type":"quantitative"}}},
{"data":{"values":[{"pos":-0.504,"pos2":17.46,"v":0,"v2":26}]},"mark":{"type":"rect","fill":"transparent","stroke":"#222222","strokeWidth":1.3},"encoding":{"x":{"field":"pos","type":"quantitative"},"x2":{"field":"pos2"},"y":{"field":"v","type":"quantitative"},"y2":{"field":"v2"}}},
{"data":{"values":[{"v":0},{"v":5},{"v":10},{"v":15},{"v":20},{"v":25}]},"mark":{"type":"rule","stroke":"#333333","strokeWidth":0.7},"encoding":{"x":{"datum":-0.72,"type":"quantitative"},"x2":{"datum":-0.504},"y":{"field":"v","type":"quantitative"}}},
{"data":{"values":[{"v":0},{"v":5},{"v":10},{"v":15},{"v":20},{"v":25}]},"mark":{"type":"text","font":"DejaVu Sans","fontSize":5.8,"fill":"#333333","align":"right","baseline":"middle"},"encoding":{"x":{"datum":-0.83,"type":"quantitative"},"y":{"field":"v","type":"quantitative"},"text":{"field":"v"}}},
{"data":{"values":[{"pos":0},{"pos":5},{"pos":10},{"pos":15}]},"mark":{"type":"rule","stroke":"#333333","strokeWidth":0.8},"encoding":{"x":{"field":"pos","type":"quantitative"},"y":{"datum":0,"type":"quantitative"},"y2":{"datum":-2}}},
{"data":{"values":[{"t":"0.0e+00","pos":0,"v":-7.4},{"t":"5.0e+06","pos":5,"v":-7.4},{"t":"1.0e+07","pos":10,"v":-7.4},{"t":"1.5e+07","pos":15,"v":-7.4},{"t":"Chromosome 18 position","pos":8.48,"v":-16.8}]},"mark":{"type":"text","font":"DejaVu Sans","fontSize":6.4,"fill":"#3a3a3a","align":"center","baseline":"middle"},"encoding":{"x":{"field":"pos","type":"quantitative"},"y":{"field":"v","type":"quantitative"},"text":{"field":"t"}}},
{"data":{"values":[{"t":"Cu content","pos":8.55,"v":32.6}]},"mark":{"type":"text","font":"Liberation Sans","fontSize":14.5,"fill":"#111111","align":"center","baseline":"middle"},"encoding":{"x":{"field":"pos","type":"quantitative"},"y":{"field":"v","type":"quantitative"},"text":{"field":"t"}}}
]}
]}
